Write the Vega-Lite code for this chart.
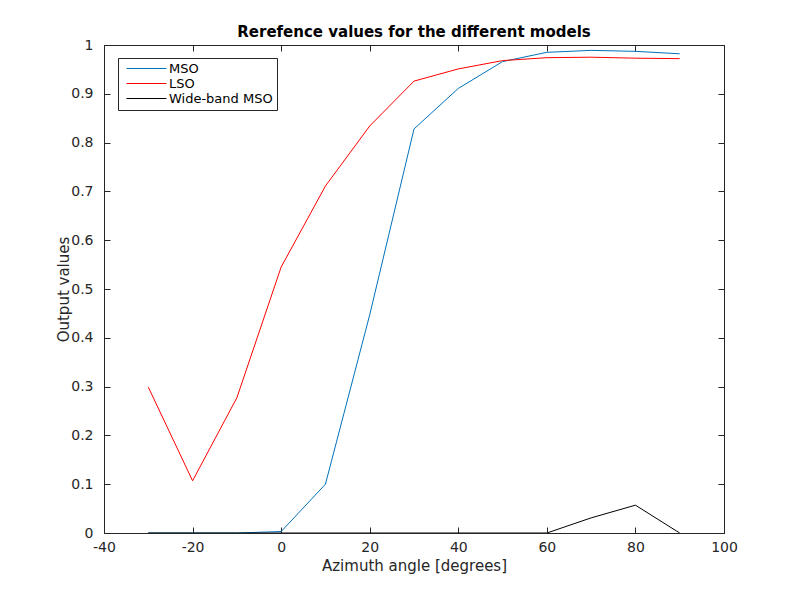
{
  "$schema": "https://vega.github.io/schema/vega-lite/v6.json",
  "width": 620,
  "height": 488,
  "autosize": {"type": "none"},
  "padding": {"left": 104, "top": 45, "right": 76, "bottom": 67},
  "background": "white",
  "title": {"text": "Rerefence values for the different models", "font": "DejaVu Sans", "fontSize": 15, "fontWeight": "bold", "color": "black", "offset": -2},
  "config": {
    "view": {"stroke": "#262626", "strokeWidth": 1},
    "axis": {"labelFont": "DejaVu Sans", "labelFontSize": 14, "labelColor": "#262626", "titleFont": "DejaVu Sans", "titleFontSize": 15, "titleFontWeight": "normal", "titleColor": "#262626", "domainColor": "#262626", "tickColor": "#262626", "grid": false, "tickSize": -6}
  },
  "data": {"values": [
    {"model": "MSO", "angle": -30, "value": 0},
    {"model": "MSO", "angle": -20, "value": 0},
    {"model": "MSO", "angle": -10, "value": 0},
    {"model": "MSO", "angle": 0, "value": 0.003},
    {"model": "MSO", "angle": 10, "value": 0.1},
    {"model": "MSO", "angle": 20, "value": 0.447},
    {"model": "MSO", "angle": 30, "value": 0.828},
    {"model": "MSO", "angle": 40, "value": 0.911},
    {"model": "MSO", "angle": 50, "value": 0.966},
    {"model": "MSO", "angle": 60, "value": 0.985},
    {"model": "MSO", "angle": 70, "value": 0.989},
    {"model": "MSO", "angle": 80, "value": 0.987},
    {"model": "MSO", "angle": 90, "value": 0.982},
    {"model": "LSO", "angle": -30, "value": 0.299},
    {"model": "LSO", "angle": -20, "value": 0.107},
    {"model": "LSO", "angle": -10, "value": 0.277},
    {"model": "LSO", "angle": 0, "value": 0.545},
    {"model": "LSO", "angle": 10, "value": 0.711},
    {"model": "LSO", "angle": 20, "value": 0.834},
    {"model": "LSO", "angle": 30, "value": 0.926},
    {"model": "LSO", "angle": 40, "value": 0.951},
    {"model": "LSO", "angle": 50, "value": 0.968},
    {"model": "LSO", "angle": 60, "value": 0.974},
    {"model": "LSO", "angle": 70, "value": 0.975},
    {"model": "LSO", "angle": 80, "value": 0.973},
    {"model": "LSO", "angle": 90, "value": 0.972},
    {"model": "Wide-band MSO", "angle": -30, "value": 0},
    {"model": "Wide-band MSO", "angle": -20, "value": 0},
    {"model": "Wide-band MSO", "angle": -10, "value": 0},
    {"model": "Wide-band MSO", "angle": 0, "value": 0},
    {"model": "Wide-band MSO", "angle": 10, "value": 0},
    {"model": "Wide-band MSO", "angle": 20, "value": 0},
    {"model": "Wide-band MSO", "angle": 30, "value": 0},
    {"model": "Wide-band MSO", "angle": 40, "value": 0},
    {"model": "Wide-band MSO", "angle": 50, "value": 0},
    {"model": "Wide-band MSO", "angle": 60, "value": 0},
    {"model": "Wide-band MSO", "angle": 70, "value": 0.031},
    {"model": "Wide-band MSO", "angle": 80, "value": 0.057},
    {"model": "Wide-band MSO", "angle": 90, "value": 0}
  ]},
  "layer": [
    {
      "mark": {"type": "line", "strokeWidth": 1, "clip": true},
      "encoding": {
        "x": {"field": "angle", "type": "quantitative", "scale": {"domain": [-40, 100], "nice": false},
              "axis": {"title": "Azimuth angle [degrees]", "values": [-40, -20, 0, 20, 40, 60, 80, 100], "labelExpr": "replace(datum.label, '\u2212', '-')", "labelPadding": 13, "titleY": 25, "labelFlush": false}},
        "y": {"field": "value", "type": "quantitative", "scale": {"domain": [0, 1], "nice": false},
              "axis": {"title": "Output values", "values": [0, 0.1, 0.2, 0.3, 0.4, 0.5, 0.6, 0.7, 0.8, 0.9, 1], "format": "~g", "labelPadding": 17, "titleX": -33, "labelFlush": false}},
        "color": {"field": "model", "type": "nominal",
                  "scale": {"domain": ["MSO", "LSO", "Wide-band MSO"], "range": ["#0072BD", "#FF0000", "#000000"]},
                  "legend": {"title": null, "orient": "none", "legendX": 14, "legendY": 13, "symbolType": "M-0.4,0H7.6", "symbolSize": 100, "symbolStrokeWidth": 1, "symbolFillColor": "transparent", "rowPadding": 1, "labelFont": "DejaVu Sans", "labelFontSize": 13, "labelColor": "black", "strokeColor": "#262626", "fillColor": "white", "padding": 4, "labelOffset": 34}}
      }
    },
    {
      "mark": {"type": "line", "opacity": 0},
      "encoding": {
        "x": {"field": "angle", "type": "quantitative", "scale": {"domain": [-40, 100], "nice": false},
              "axis": {"orient": "top", "title": null, "labels": false, "values": [-40, -20, 0, 20, 40, 60, 80, 100]}},
        "y": {"field": "value", "type": "quantitative", "scale": {"domain": [0, 1], "nice": false},
              "axis": {"orient": "right", "title": null, "labels": false, "values": [0, 0.1, 0.2, 0.3, 0.4, 0.5, 0.6, 0.7, 0.8, 0.9, 1]}},
        "detail": {"field": "model"}
      }
    }
  ],
  "resolve": {"axis": {"x": "independent", "y": "independent"}}
}
